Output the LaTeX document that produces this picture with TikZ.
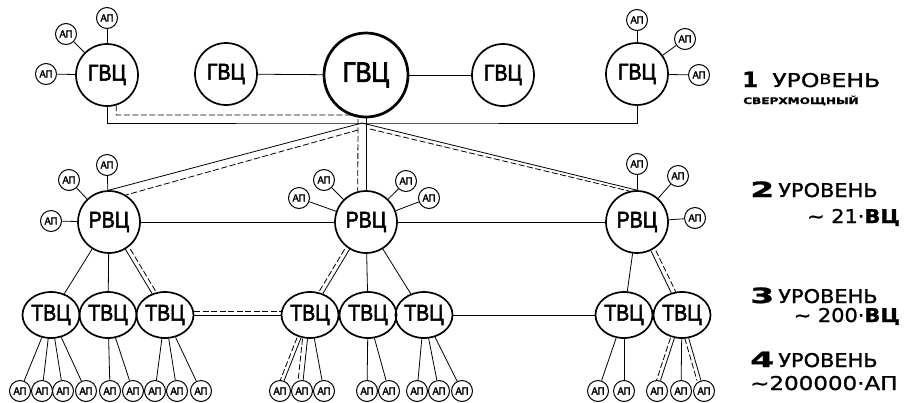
\documentclass[tikz,border=0pt]{standalone}
\usepackage{fontspec}
\usepackage{graphicx}
\setmainfont{Liberation Sans}
\newfontfamily\vcfont{Liberation Sans}[FakeStretch=0.85, FakeBold=2.5]
\newfontfamily\apfont{Liberation Sans}[FakeStretch=0.9, FakeBold=2.5]
\newfontfamily\lvlfont{DejaVu Sans}[FakeStretch=1.1, FakeBold=1.2]
\newcommand\lvldigit[1]{{\fontsize{21}{21}\selectfont\bfseries\scalebox{1.5}[1]{#1}}}
\usetikzlibrary{calc, positioning, shapes.geometric}
\tikzset{
	gvc/.style={circle, draw, line width=1.7pt, minimum size=62pt, inner sep=0pt, font=\vcfont\fontsize{23}{23}\selectfont},
	gvcmain/.style={gvc, line width=2.7pt, minimum size=84pt, font=\vcfont\fontsize{28}{28}\selectfont},
	tvc/.style={ellipse, draw, line width=1.7pt, minimum width=57pt, minimum height=46pt, inner sep=0pt, font=\vcfont\fontsize{23}{23}\selectfont},
	ap/.style={circle, draw, line width=1pt, minimum size=21pt, inner sep=0pt, font=\apfont\fontsize{10.5}{10.5}\selectfont},
	link/.style={line width=0.8pt},
	dlink/.style={link, dash pattern=on 6pt off 2.5pt},
	lvl/.style={anchor=base west, inner sep=0pt, font=\lvlfont\fontsize{19}{19}\selectfont},
	lvlnum/.style={lvl, anchor=base east}
}

\begin{document}
\begin{tikzpicture}[x=1pt, y=-1pt]
	\useasboundingbox (0,0) rectangle (904,402);
	\node[gvc] (gvcA) at (107,75) {ГВЦ};
	\node[gvc] (gvcB) at (226,74) {ГВЦ};
	\node[gvcmain] (gvcM) at (366,75) {ГВЦ};
	\node[gvc] (gvcC) at (503,75) {ГВЦ};
	\node[gvc] (gvcD) at (637,74) {ГВЦ};
	\node[ap] (apA1) at (46,74) {АП};
	\node[ap] (apA2) at (66,34) {АП};
	\node[ap] (apA3) at (107,18) {АП};
	\node[ap] (apD1) at (637,20) {АП};
	\node[ap] (apD2) at (685,39) {АП};
	\node[ap] (apD3) at (699,75) {АП};
	\foreach \a in {apA1,apA2,apA3} \draw[link] (gvcA) -- (\a);
	\foreach \a in {apD1,apD2,apD3} \draw[link] (gvcD) -- (\a);
	\draw[link] (gvcB) -- (gvcM);
	\draw[link] (gvcM) -- (gvcC);

	\node[gvc] (rvcA) at (109,222) {РВЦ};
	\node[gvc] (rvcB) at (366,222) {РВЦ};
	\node[gvc] (rvcC) at (637,222) {РВЦ};
	\node[ap] (apR1) at (51,221) {АП};
	\node[ap] (apR2) at (69,180) {АП};
	\node[ap] (apR3) at (107,165) {АП};
	\node[ap] (apR4) at (299,198) {АП};
	\node[ap] (apR5) at (324,180) {АП};
	\node[ap] (apR6) at (406,181) {АП};
	\node[ap] (apR7) at (429,198) {АП};
	\node[ap] (apR8) at (637,164) {АП};
	\node[ap] (apR9) at (678,176) {АП};
	\node[ap] (apR10) at (695,218) {АП};
	\foreach \a in {apR1,apR2,apR3} \draw[link] (rvcA) -- (\a);
	\foreach \a in {apR4,apR5,apR6,apR7} \draw[link] (rvcB) -- (\a);
	\foreach \a in {apR8,apR9,apR10} \draw[link] (rvcC) -- (\a);
	\draw[link] (rvcA) -- (rvcB) -- (rvcC);

	\coordinate (hub) at (362,123);
	\coordinate (dhub) at (358,115);
	\draw[link] (gvcA.south) |- (hub) -| (gvcD.south);
	\draw[dlink] (gvcA.-73) |- (dhub) -- (rvcB.105);
	\draw[link] (gvcM.south) -- (rvcB.north);
	\draw[link] (hub) -- (rvcA.north);
	\draw[dlink] ($(hub)+(-4,7)$) -- (rvcA.58);
	\draw[link] (hub) -- (rvcC.north);
	\draw[dlink] ($(hub)+(8,6)$) -- (rvcC.104);

	\node[tvc] (tvcA) at (51,315) {ТВЦ};
	\node[tvc] (tvcB) at (108,315) {ТВЦ};
	\node[tvc] (tvcC) at (165,315) {ТВЦ};
	\node[tvc] (tvcD) at (310,315) {ТВЦ};
	\node[tvc] (tvcE) at (368,315) {ТВЦ};
	\node[tvc] (tvcF) at (424,315) {ТВЦ};
	\node[tvc] (tvcG) at (624,315) {ТВЦ};
	\node[tvc] (tvcH) at (682,315) {ТВЦ};
	\foreach \t in {tvcA,tvcB,tvcC} \draw[link] (rvcA) -- (\t);
	\foreach \t in {tvcD,tvcE,tvcF} \draw[link] (rvcB) -- (\t);
	\foreach \t in {tvcG,tvcH} \draw[link] (rvcC) -- (\t);
	\draw[dlink, transform canvas={shift={(5,0)}}] (rvcA) -- (tvcC);
	\draw[dlink, transform canvas={shift={(-5,0)}}] (rvcB) -- (tvcD);
	\draw[dlink, transform canvas={shift={(5,0)}}] (rvcC) -- (tvcH);
	\draw[link] (tvcC) -- (tvcD);
	\draw[dlink, transform canvas={shift={(0,-4)}}] (tvcC) -- (tvcD);
	\draw[link] (tvcF) -- (tvcG);

	\foreach \t/\xs in {tvcA/{20,42,63,86}, tvcB/{110,133}, tvcC/{155,177,201}, tvcD/{280,302,324}, tvcE/{367,389}, tvcF/{417,439,462}, tvcG/{598,624}, tvcH/{657,681,704}}
		\foreach \x in \xs {
			\node[ap] (ap\t\x) at (\x,391) {АП};
			\draw[link] (\t) -- (ap\t\x);
		}
	\draw[dlink, transform canvas={shift={(-4,0)}}] (tvcD) -- (aptvcD280);
	\draw[dlink, transform canvas={shift={(-5,0)}}] (tvcD) -- (aptvcD302);
	\draw[dlink, transform canvas={shift={(-4,0)}}] (tvcH) -- (aptvcH657);
	\draw[dlink, transform canvas={shift={(-4,0)}}] (tvcH) -- (aptvcH704);

	\node[lvl] (lvlA) at (742,87) {{\fontsize{21}{21}\selectfont\bfseries 1}\hspace{14pt}\scalebox{1.13}[1]{УРО\raisebox{3pt}{\fontsize{14}{14}\selectfont В}ЕНЬ}};
	\node[lvl, font=\lvlfont\bfseries\fontsize{9}{9}\selectfont] (lvlAs) at (743,104) {\scalebox{1.22}[1]{СВЕРХМОЩНЫЙ}};
	\node[lvl] (lvlB) at (750,197) {\lvldigit{2}\hspace{4pt}УРОВЕНЬ};
	\node[lvlnum] (lvlBn) at (900,223) {∼ 21·\textbf{ВЦ}};
	\node[lvl] (lvlC) at (750,303) {\lvldigit{3}\hspace{4pt}УРОВЕНЬ};
	\node[lvlnum] (lvlCn) at (900,322) {∼ 200·\textbf{ВЦ}};
	\node[lvl] (lvlD) at (750,367) {\lvldigit{4}\hspace{4pt}УРОВЕНЬ};
	\node[lvl] (lvlDn) at (750,390) {\scalebox{1.1}[1]{∼200000·АП}};
\end{tikzpicture}
\end{document}
